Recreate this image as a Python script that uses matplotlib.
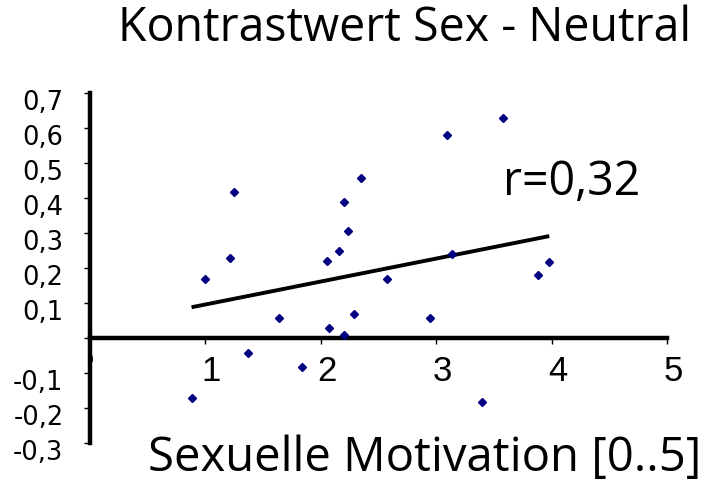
import matplotlib
matplotlib.use("Agg")
import matplotlib.pyplot as plt
import matplotlib.transforms as mtrans
import numpy as np

# Sexuelle Motivation (x) vs. Kontrastwert Sex - Neutral (y)
motivation = [0.88, 1.00, 1.21, 1.25, 1.37, 1.64, 1.84, 2.05, 2.07, 2.16, 2.20, 2.20,
              2.24, 2.29, 2.35, 2.57, 2.95, 3.09, 3.14, 3.40, 3.58, 3.88, 3.98]
kontrast = [-0.172, 0.169, 0.228, 0.418, -0.042, 0.058, -0.082, 0.219, 0.028, 0.249, 0.388, 0.009,
            0.307, 0.068, 0.458, 0.170, 0.058, 0.579, 0.239, -0.182, 0.628, 0.179, 0.218]

x_ticks = [0, 1, 2, 3, 4, 5]
x_labels = ["0", "1", "2", "3", "4", "5"]
y_ticks = [-0.3, -0.2, -0.1, 0.0, 0.1, 0.2, 0.3, 0.4, 0.5, 0.6, 0.7]
y_labels = ["-0,3", "-0,2", "-0,1", "", "0,1", "0,2", "0,3", "0,4", "0,5", "0,6", "0,7"]

title = "Kontrastwert Sex - Neutral"
xlabel = "Sexuelle Motivation [0..5]"
r_text = "r=0,32"

W, H = 708, 494
fig = plt.figure(figsize=(W / 100, H / 100), dpi=100)
ax = fig.add_axes([90 / W, 1 - 443 / H, (667 - 90) / W, (443 - 93) / H])

x = np.array(motivation)
y = np.array(kontrast)
ax.plot(x, y, linestyle="none", marker="D", ms=3.7, color="#000080", zorder=3)

# regression line over the data range
k, d = np.polyfit(x, y, 1)
xl = np.array([x.min(), x.max()])
ax.plot(xl, k * xl + d, color="black", lw=2.8, solid_capstyle="butt", zorder=2)

ax.set_xlim(0, 5)
ax.set_ylim(-0.3, 0.7)

for s in ["top", "right"]:
    ax.spines[s].set_visible(False)
ax.spines["bottom"].set_position(("data", 0))
ax.spines["left"].set_linewidth(3.2)
ax.spines["bottom"].set_linewidth(3.2)

ax.set_xticks(x_ticks)
ax.set_xticklabels(x_labels, family="Liberation Sans", fontsize=25)
ax.set_yticks(y_ticks)
ax.set_yticklabels(y_labels, family="DejaVu Sans", fontsize=18.5)
ax.tick_params(axis="x", direction="out", length=4, width=1, pad=8)
ax.tick_params(axis="y", direction="out", length=4, width=1, pad=15)

# tiny "0" at the origin
lab0 = ax.get_xticklabels()[0]
lab0.set_fontsize(7)
lab0.set_zorder(5)

shift_x = mtrans.ScaledTranslation(6 / 100, 0, fig.dpi_scale_trans)
for lab in ax.get_xticklabels()[1:]:
    lab.set_transform(lab.get_transform() + shift_x)
shift_y = mtrans.ScaledTranslation(0, -7 / 100, fig.dpi_scale_trans)
for lab in ax.get_yticklabels():
    lab.set_transform(lab.get_transform() + shift_y)

fig.text(405 / W, 1 - 41 / H, title, family="Open Sans", fontsize=33.5,
         ha="center", va="baseline")
fig.text(425 / W, 1 - 471 / H, xlabel, family="Open Sans", fontsize=34,
         ha="center", va="baseline")
fig.text(572 / W, 1 - 195 / H, r_text, family="Open Sans", fontsize=33.5,
         ha="center", va="baseline")

fig.savefig("out.png", dpi=100)
